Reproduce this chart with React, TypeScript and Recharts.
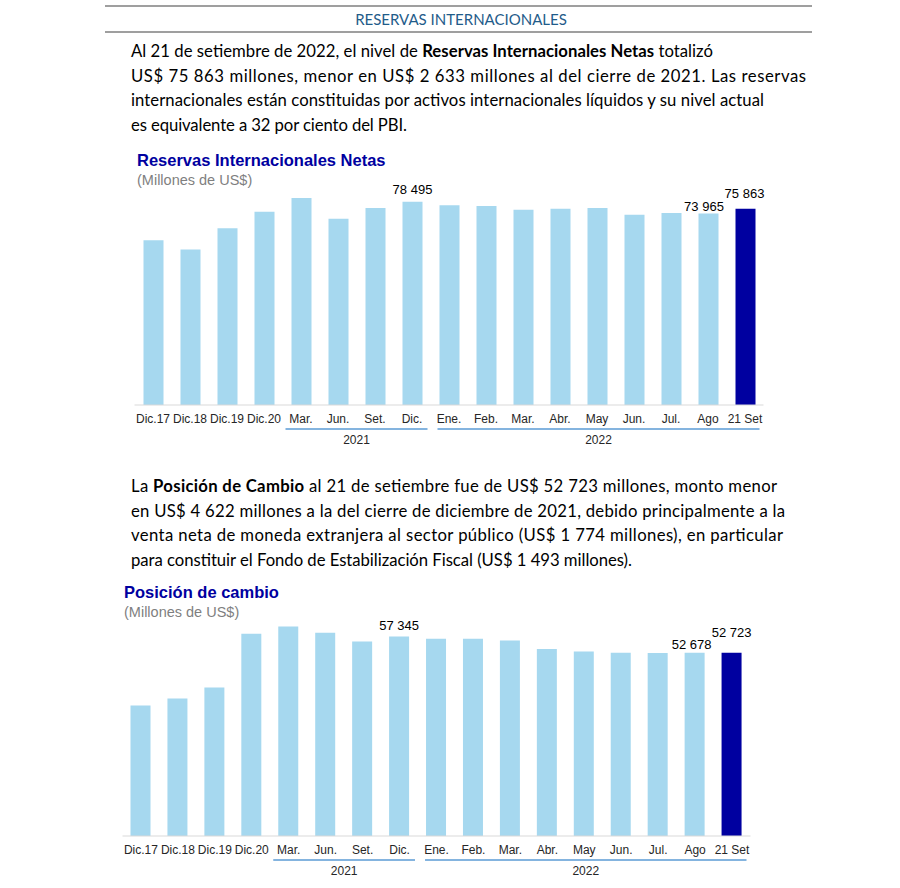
import React from "react";
import { BarChart, Bar, XAxis, YAxis, Cell, LabelList } from "recharts";

// ---------- data ----------
const categories = [
  "Dic.17", "Dic.18", "Dic.19", "Dic.20",
  "Mar.", "Jun.", "Set.", "Dic.",
  "Ene.", "Feb.", "Mar.", "Abr.", "May", "Jun.", "Jul.", "Ago", "21 Set",
];
const rinValues = [
  63621, 60121, 68316, 74707,
  80000, 71980, 76120, 78495,
  77130, 76900, 75460, 75850, 76120, 73530, 74190, 73965, 75863,
];
const posValues = [
  37530, 39540, 42710, 58180,
  60280, 58460, 55960, 57345,
  56740, 56740, 56250, 53770, 53080, 52700, 52620, 52678, 52723,
];
const yearLabels = ["2021", "2022"];
const yearStartIdx = [4, 8];
const yearEndIdx = [7, 16];
const labeledIdx = [7, 15, 16];

const rinData = categories.map((c, i) => ({ cat: c, value: rinValues[i] }));
const posData = categories.map((c, i) => ({ cat: c, value: posValues[i] }));

// ---------- styles ----------
const LIGHT = "#A6D8EF";
const DARK = "#0000A0";
const ARIAL = "'Liberation Sans', Arial, sans-serif";
const BODY = "Lato, 'Noto Sans', sans-serif";

const fmt = (v: number) => {
  const s = String(Math.round(v));
  return s.replace(/\B(?=(\d{3})+(?!\d))/g, " ");
};

function makeTick(bandWidth: number) {
  return (props: any) => {
    const { x, y, payload } = props;
    const i: number = typeof props.index === "number" ? props.index : payload.index;
    const g = yearStartIdx.indexOf(i);
    let group: React.ReactNode = null;
    if (g >= 0) {
      const cnt = yearEndIdx[g] - yearStartIdx[g] + 1;
      const start = x - bandWidth / 2;
      const x0 = start + (g === 0 ? 3 : 7);
      const x1 = start + cnt * bandWidth - (g === 0 ? 3 : 4);
      group = (
        <g>
          <line x1={x0} x2={x1} y1={y + 24} y2={y + 24} stroke="#5B9BD5" strokeWidth={1.5} />
          <text x={(x0 + x1) / 2} y={y + 38.5} textAnchor="middle" fontSize={12} fill="#262626" fontFamily={ARIAL}>
            {yearLabels[g]}
          </text>
        </g>
      );
    }
    return (
      <g>
        <text x={x} y={y + 18} textAnchor="middle" fontSize={12} fill="#262626" fontFamily={ARIAL}>
          {payload.value}
        </text>
        {group}
      </g>
    );
  };
}

function makeLabel(offsets: Record<number, [number, number]>) {
  return (props: any) => {
    const { x, y, width, value, index } = props;
    if (!labeledIdx.includes(index)) return null;
    const [dx, dy] = offsets[index] || [0, 6];
    return (
      <text x={Number(x) + Number(width) / 2 + dx} y={Number(y) - dy} textAnchor="middle" fontSize={13} fill="#000" fontFamily={ARIAL}>
        {fmt(Number(value))}
      </text>
    );
  };
}

const n = categories.length;

// chart 1 layout
const c1Left = 134.5;
const c1Right = 763.5;
const c1Band = (c1Right - c1Left) / n;
// chart 2 layout
const c2Left = 122.5;
const c2Right = 750.5;
const c2Band = (c2Right - c2Left) / n;

const P = (props: { y: number; w: number; children: React.ReactNode }) => (
  <text x={131} y={props.y} textLength={props.w} lengthAdjust="spacing">
    {props.children}
  </text>
);

export default function App() {
  return (
    <div style={{ position: "absolute", left: 0, top: 0, width: 900, height: 888, background: "#fff", overflow: "hidden" }}>
      {/* text overlay */}
      <svg width={900} height={888} style={{ position: "absolute", left: 0, top: 0 }}>
        <line x1={105} x2={812} y1={6} y2={6} stroke="#7F7F7F" strokeWidth={1.5} />
        <line x1={105} x2={812} y1={32} y2={32} stroke="#7F7F7F" strokeWidth={1.5} />
        <text x={461} y={24.5} textAnchor="middle" fontSize={15} fill="#1F5C8A" fontFamily={BODY}>
          RESERVAS INTERNACIONALES
        </text>

        <g fontFamily={BODY} fontSize={16.7} fill="#000">
          <P y={57} w={582}>
            Al 21 de setiembre de 2022, el nivel de <tspan fontWeight="bold">Reservas Internacionales Netas</tspan> totalizó
          </P>
          <P y={81.5} w={675}>
            US$ 75 863 millones, menor en US$ 2 633 millones al del cierre de 2021. Las reservas
          </P>
          <P y={106} w={633}>
            internacionales están constituidas por activos internacionales líquidos y su nivel actual
          </P>
          <P y={130.5} w={276}>es equivalente a 32 por ciento del PBI.</P>

          <P y={492} w={646}>
            La <tspan fontWeight="bold">Posición de Cambio</tspan> al 21 de setiembre fue de US$ 52 723 millones, monto menor
          </P>
          <P y={516.5} w={654}>
            en US$ 4 622 millones a la del cierre de diciembre de 2021, debido principalmente a la
          </P>
          <P y={541} w={652}>
            venta neta de moneda extranjera al sector público (US$ 1 774 millones), en particular
          </P>
          <P y={565.5} w={501}>para constituir el Fondo de Estabilización Fiscal (US$ 1 493 millones).</P>
        </g>

        <text x={137} y={166} fontSize={16.5} fontWeight="bold" fill={DARK} fontFamily={ARIAL}>
          Reservas Internacionales Netas
        </text>
        <text x={137} y={184.5} fontSize={14.5} fill="#7F7F7F" fontFamily={ARIAL}>
          (Millones de US$)
        </text>

        <text x={124} y={598} fontSize={16.5} fontWeight="bold" fill={DARK} fontFamily={ARIAL}>
          Posición de cambio
        </text>
        <text x={124} y={616.5} fontSize={14.5} fill="#7F7F7F" fontFamily={ARIAL}>
          (Millones de US$)
        </text>
      </svg>

      {/* chart 1 */}
      <div style={{ position: "absolute", left: 0, top: 0 }}>
        <BarChart
          width={900}
          height={460}
          data={rinData}
          margin={{ top: 185, right: 900 - c1Right, bottom: 5, left: c1Left }}
        >
          <YAxis hide domain={[0, 85000]} />
          <XAxis
            dataKey="cat"
            interval={0}
            height={50}
            tickLine={false}
            tickSize={0}
            tickMargin={0}
            axisLine={{ stroke: "#D9D9D9", strokeWidth: 1 }}
            tick={makeTick(c1Band)}
          />
          <Bar dataKey="value" barSize={20} isAnimationActive={false}>
            {rinData.map((_, i) => (
              <Cell key={i} fill={i === n - 1 ? DARK : LIGHT} />
            ))}
            <LabelList dataKey="value" content={makeLabel({ 7: [0, 8], 15: [-4.5, 2.5], 16: [-1, 11] })} />
          </Bar>
        </BarChart>
      </div>

      {/* chart 2 */}
      <div style={{ position: "absolute", left: 0, top: 450 }}>
        <BarChart
          width={900}
          height={438}
          data={posData}
          margin={{ top: 160, right: 900 - c2Right, bottom: 5, left: c2Left }}
        >
          <YAxis hide domain={[0, 65000]} />
          <XAxis
            dataKey="cat"
            interval={0}
            height={47}
            tickLine={false}
            tickSize={0}
            tickMargin={0}
            axisLine={{ stroke: "#D9D9D9", strokeWidth: 1 }}
            tick={makeTick(c2Band)}
          />
          <Bar dataKey="value" barSize={20} isAnimationActive={false}>
            {posData.map((_, i) => (
              <Cell key={i} fill={i === n - 1 ? DARK : LIGHT} />
            ))}
            <LabelList dataKey="value" content={makeLabel({ 7: [0, 7], 15: [-3, 3.5], 16: [0, 15.5] })} />
          </Bar>
        </BarChart>
      </div>
    </div>
  );
}
